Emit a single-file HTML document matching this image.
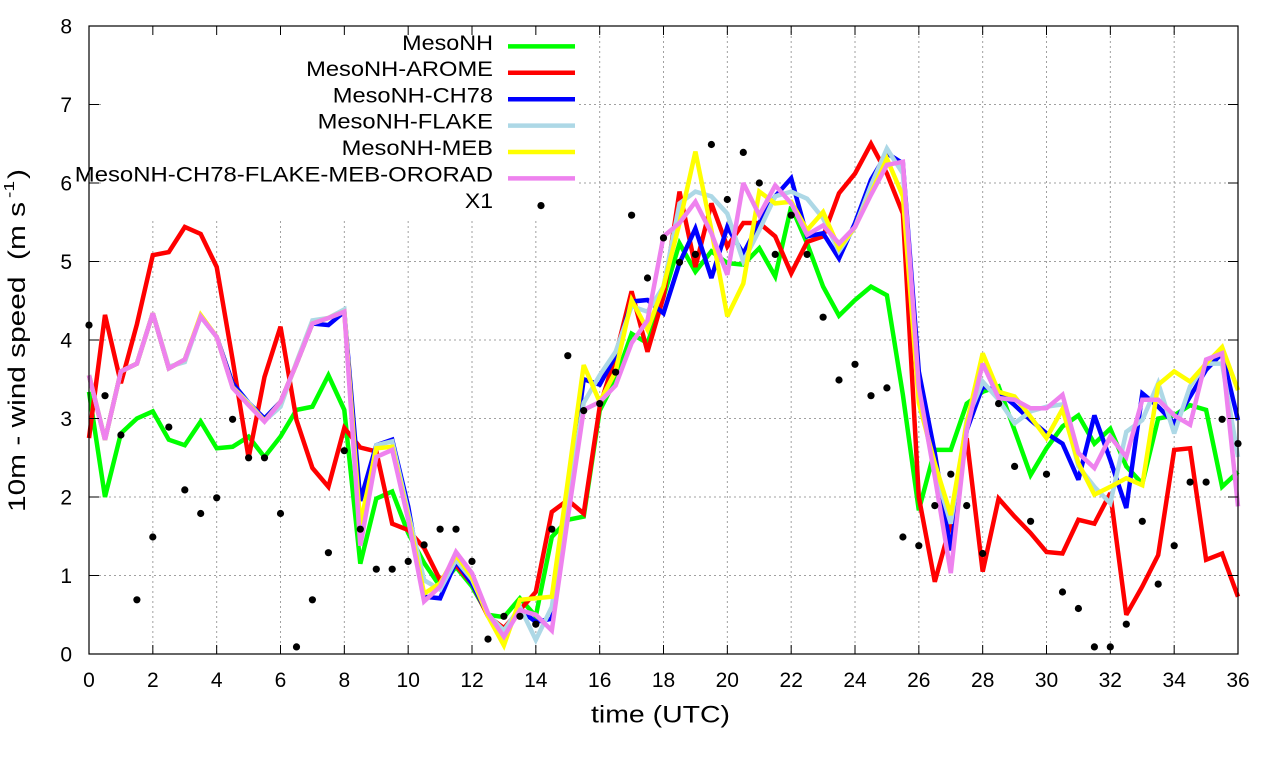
<!DOCTYPE html>
<html>
<head>
<meta charset="utf-8">
<style>
  html,body{margin:0;padding:0;background:#fff;}
  svg{display:block;font-family:"Liberation Sans",Arial,sans-serif;}
  text{fill:#000;}
</style>
</head>
<body>
<svg id="c" width="1280" height="760" viewBox="0 0 1280 760" xmlns="http://www.w3.org/2000/svg">
  <rect x="0" y="0" width="1280" height="760" fill="#fff"/>
  <g id="grid" stroke="#a0a0a0" stroke-width="1" stroke-dasharray="2,3" fill="none"></g>
  <rect x="102" y="27" width="475" height="191" fill="#fff"/>
  <g id="series" fill="none" stroke-width="4.5" stroke-linejoin="miter" stroke-miterlimit="3"></g>
  <g id="dots" fill="#000"></g>

  <!-- legend -->
  <g font-size="21" text-anchor="end">
    <text x="493" y="49.8" textLength="90.8" lengthAdjust="spacingAndGlyphs">MesoNH</text>
    <text x="493" y="75.9" textLength="186.9" lengthAdjust="spacingAndGlyphs">MesoNH-AROME</text>
    <text x="493" y="102.3" textLength="160.2" lengthAdjust="spacingAndGlyphs">MesoNH-CH78</text>
    <text x="493" y="128.7" textLength="175.4" lengthAdjust="spacingAndGlyphs">MesoNH-FLAKE</text>
    <text x="493" y="155.1" textLength="151.4" lengthAdjust="spacingAndGlyphs">MesoNH-MEB</text>
    <text x="493" y="181.5" textLength="418.2" lengthAdjust="spacingAndGlyphs">MesoNH-CH78-FLAKE-MEB-ORORAD</text>
    <text x="493" y="207.9" textLength="28.1" lengthAdjust="spacingAndGlyphs">X1</text>
  </g>
  <g stroke-width="4.5" fill="none">
    <line x1="508" y1="46.4" x2="575" y2="46.4" stroke="#00ff00"/>
    <line x1="508" y1="72.8" x2="575" y2="72.8" stroke="#ff0000"/>
    <line x1="508" y1="99.2" x2="575" y2="99.2" stroke="#0000ff"/>
    <line x1="508" y1="125.6" x2="575" y2="125.6" stroke="#add8e6"/>
    <line x1="508" y1="152.0" x2="575" y2="152.0" stroke="#ffff00"/>
    <line x1="508" y1="178.4" x2="575" y2="178.4" stroke="#ee82ee"/>
  </g>
  <circle cx="541" cy="205.6" r="3.6" fill="#000"/>

  <!-- border -->
  <rect x="89" y="26" width="1149" height="628" fill="none" stroke="#000" stroke-width="1.2"/>
  <g id="ticks" stroke="#000" stroke-width="1"></g>

  <!-- y tick labels -->
  <g font-size="21" text-anchor="end">
    <text x="72" y="661.7">0</text>
    <text x="72" y="583.2">1</text>
    <text x="72" y="504.7">2</text>
    <text x="72" y="426.2">3</text>
    <text x="72" y="347.7">4</text>
    <text x="72" y="269.2">5</text>
    <text x="72" y="190.7">6</text>
    <text x="72" y="112.2">7</text>
    <text x="72" y="33.7">8</text>
  </g>
  <!-- x tick labels -->
  <g font-size="21" text-anchor="middle">
    <text x="89" y="687">0</text>
    <text x="152.8" y="687">2</text>
    <text x="216.7" y="687">4</text>
    <text x="280.5" y="687">6</text>
    <text x="344.3" y="687">8</text>
    <text x="408.2" y="687">10</text>
    <text x="472" y="687">12</text>
    <text x="535.8" y="687">14</text>
    <text x="599.7" y="687">16</text>
    <text x="663.5" y="687">18</text>
    <text x="727.3" y="687">20</text>
    <text x="791.2" y="687">22</text>
    <text x="855" y="687">24</text>
    <text x="918.8" y="687">26</text>
    <text x="982.7" y="687">28</text>
    <text x="1046.5" y="687">30</text>
    <text x="1110.3" y="687">32</text>
    <text x="1174.2" y="687">34</text>
    <text x="1238" y="687">36</text>
  </g>

  <!-- axis titles -->
  <text x="591" y="722.3" font-size="24" textLength="139" lengthAdjust="spacingAndGlyphs">time (UTC)</text>
  <text transform="translate(25,512) rotate(-90)" font-size="24" style="white-space:pre" textLength="310" lengthAdjust="spacingAndGlyphs">10m - wind speed  (m s</text>
  <text transform="translate(14,198) rotate(-90)" font-size="15" textLength="17" lengthAdjust="spacingAndGlyphs">-1</text>
  <text transform="translate(25,179) rotate(-90)" font-size="24" textLength="10" lengthAdjust="spacingAndGlyphs">)</text>
</svg>
<script>
(function(){
  var NS="http://www.w3.org/2000/svg";
  function X(t){return 89+t*31.917;}
  function Y(v){return 654-v*78.5;}
  function el(name,attrs,parent){var e=document.createElementNS(NS,name);for(var k in attrs)e.setAttribute(k,attrs[k]);parent.appendChild(e);return e;}
  var grid=document.getElementById('grid');
  for(var t=2;t<36;t+=2){el('line',{x1:X(t),y1:26,x2:X(t),y2:654},grid);}
  for(var v=1;v<8;v++){el('line',{x1:89,y1:Y(v),x2:1238,y2:Y(v)},grid);}
  var ticks=document.getElementById('ticks');
  for(var t=0;t<=36;t+=2){
    el('line',{x1:X(t),y1:654,x2:X(t),y2:645},ticks);
    el('line',{x1:X(t),y1:26,x2:X(t),y2:35},ticks);
  }
  for(var v=0;v<=8;v++){
    el('line',{x1:89,y1:Y(v),x2:99,y2:Y(v)},ticks);
    el('line',{x1:1238,y1:Y(v),x2:1228,y2:Y(v)},ticks);
  }
  var S=[
   ["#00ff00",[3.34,2.0,2.81,3.0,3.09,2.73,2.66,2.96,2.62,2.64, 2.77,2.51,2.77,3.11,3.15,3.55,3.11,1.15,1.98,2.07, 1.54,1.16,0.86,1.11,0.86,0.5,0.47,0.71,0.48,1.49, 1.71,1.75,3.1,3.5,4.08,3.96,4.55,5.23,4.87,5.13, 4.98,4.96,5.17,4.81,5.7,5.23,4.68,4.31,4.51,4.68, 4.57,3.3,1.83,2.6,2.6,3.19,3.34,3.41,2.85,2.28, 2.62,2.9,3.04,2.68,2.87,2.39,2.17,3.0,3.04,3.17, 3.11,2.13,2.32]],
   ["#ff0000",[2.75,4.32,3.45,4.2,5.08,5.12,5.44,5.35,4.93,3.75, 2.5,3.53,4.17,2.98,2.37,2.13,2.88,2.63,2.58,1.66, 1.58,1.35,0.94,1.13,0.9,0.48,0.33,0.56,0.79,1.81, 1.96,1.79,3.15,3.8,4.62,3.85,4.55,5.89,4.93,5.74, 5.19,5.49,5.49,5.32,4.85,5.25,5.32,5.87,6.12,6.5, 6.12,5.61,2.0,0.92,1.66,2.75,1.05,1.98,1.75,1.54, 1.3,1.28,1.71,1.66,2.05,0.5,0.86,1.26,2.6,2.62, 1.2,1.28,0.73]],
   ["#0000ff",[3.55,2.73,3.6,3.7,4.34,3.64,3.75,4.3,4.04,3.45, 3.2,3.0,3.21,3.7,4.21,4.19,4.36,1.95,2.66,2.73, 1.88,0.73,0.71,1.18,0.9,0.5,0.24,0.56,0.41,0.45, 1.98,3.5,3.43,3.8,4.49,4.51,4.34,4.98,5.42,4.79, 5.44,5.1,5.49,5.83,6.06,5.32,5.36,5.04,5.49,6.04, 6.38,6.25,3.6,2.56,1.32,2.85,3.41,3.34,3.17,2.98, 2.81,2.68,2.22,3.04,2.47,1.86,3.32,3.15,2.94,3.28, 3.62,3.83,2.98]],
   ["#add8e6",[3.55,2.73,3.6,3.7,4.34,3.66,3.72,4.3,4.04,3.4, 3.2,2.97,3.15,3.72,4.25,4.28,4.39,1.5,2.66,2.71, 1.8,0.94,0.82,1.2,0.95,0.5,0.3,0.6,0.18,0.6, 1.95,3.2,3.55,3.85,4.43,4.36,4.68,5.74,5.89,5.83, 5.61,5.0,5.4,5.83,5.89,5.8,5.55,5.13,5.44,5.97, 6.44,6.12,3.3,2.34,1.66,2.98,3.47,3.24,2.94,3.09, 3.15,3.18,2.39,2.13,1.92,2.83,2.98,3.45,2.81,3.41, 3.7,3.7,2.51]],
   ["#ffff00",[3.55,2.73,3.6,3.7,4.34,3.64,3.75,4.32,4.04,3.4, 3.18,2.97,3.21,3.7,4.21,4.28,4.36,1.65,2.62,2.64, 1.75,0.77,0.9,1.26,0.98,0.48,0.11,0.69,0.71,0.73, 2.2,3.68,3.21,3.6,4.51,4.13,4.68,5.49,6.4,5.4, 4.3,4.72,5.89,5.74,5.76,5.4,5.63,5.17,5.44,5.87, 6.31,5.83,3.2,2.43,1.77,2.94,3.83,3.34,3.28,3.02, 2.75,3.12,2.43,2.03,2.13,2.24,2.15,3.43,3.6,3.47, 3.7,3.91,3.36]],
   ["#ee82ee",[3.55,2.73,3.6,3.7,4.34,3.64,3.75,4.3,4.04,3.39, 3.17,2.96,3.21,3.7,4.21,4.28,4.36,1.38,2.51,2.6, 1.71,0.67,0.86,1.3,1.03,0.52,0.22,0.56,0.5,0.3, 1.73,3.11,3.21,3.42,3.96,4.25,5.32,5.49,5.76,5.36, 4.83,6.0,5.59,5.97,5.74,5.34,5.46,5.23,5.44,5.85, 6.23,6.27,3.4,2.26,1.03,2.85,3.7,3.26,3.24,3.13, 3.13,3.3,2.56,2.37,2.77,2.51,3.24,3.24,3.04,2.92, 3.75,3.83,1.88]]
  ];
  var sg=document.getElementById('series');
  S.forEach(function(s){
    var pts=s[1].map(function(v,i){return X(i*0.5).toFixed(1)+","+Y(v).toFixed(1);}).join(" ");
    el('polyline',{points:pts,stroke:s[0]},sg);
  });
  var D=[4.19,3.29,2.79,0.69,1.49,2.89,2.09,1.79,1.99,2.99, 2.5,2.5,1.79,0.09,0.69,1.29,2.59,1.59,1.08,1.08, 1.18,1.39,1.59,1.59,1.18,0.19,0.48,0.48,0.38,1.59, 3.8,3.1,3.19,3.59,5.59,4.79,5.3,4.99,5.09,6.49, 5.79,6.39,6.0,5.09,5.59,5.09,4.29,3.49,3.69,3.29, 3.39,1.49,1.38,1.89,2.29,1.89,1.28,3.19,2.39,1.69, 2.29,0.79,0.58,0.09,0.09,0.38,1.69,0.89,1.38,2.19, 2.19,2.99,2.68];
  var dg=document.getElementById('dots');
  D.forEach(function(v,i){el('circle',{cx:X(i*0.5).toFixed(1),cy:Y(v).toFixed(1),r:3.6},dg);});
})();
</script>
</body>
</html>
